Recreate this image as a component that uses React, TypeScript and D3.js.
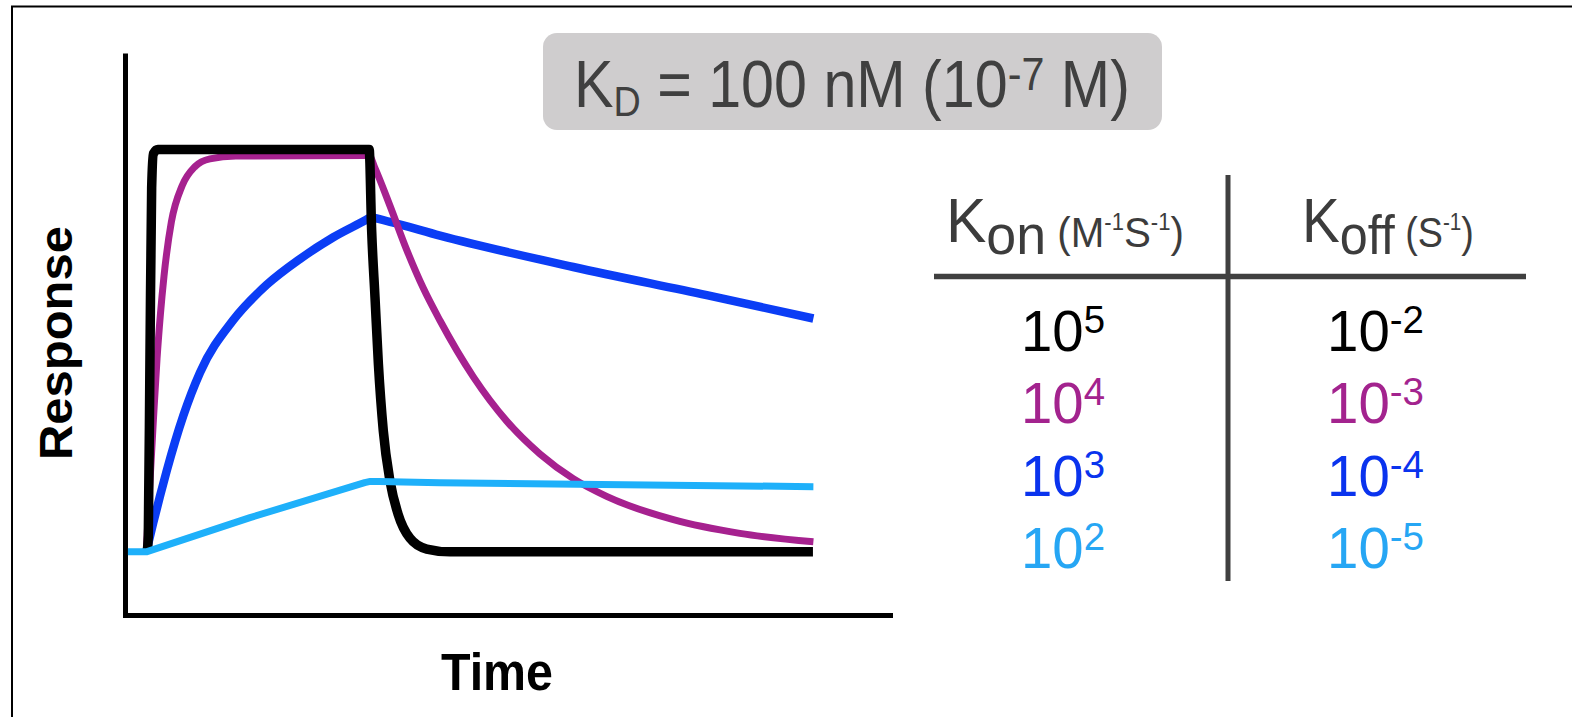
import React, { useEffect, useRef } from 'react';
import * as d3 from 'd3';

const W = 1572;
const H = 717;
const FONT = '"Liberation Sans", Arial, Helvetica, sans-serif';

// sensorgram points: [time, response], 100 = plateau
const fastCurve = [
  [0.4, 0], [0.9, 4], [1.65, 49], [2.4, 90.5], [3.2, 99], [5.2, 100], [99.5, 100],
  [100.6, 80], [102.1, 63.3], [103.6, 46.8], [105.8, 30.1], [108.8, 17.6], [112.4, 9.4],
  [117.7, 3.4], [125.2, 0.7], [135.6, 0], [297.6, 0],
];
const midCurve = [
  [0, 0], [1.5, 16], [3.2, 33], [4.8, 48], [6.3, 59], [7.9, 68.5], [11.2, 82], [16, 91],
  [21.8, 95.8], [28.4, 97.7], [40, 98.4], [99.5, 98.5],
  [102, 95.5], [108.8, 86], [116.3, 75], [123.7, 65.5], [131.1, 57.5], [146, 43.5],
  [160.9, 32.5], [175.8, 24.3], [190.6, 18.2], [205.5, 13.8], [235.3, 8], [265, 4.6], [297.8, 2.5],
];
const slowOnCurve = [
  [0, 0], [3.1, 7.2], [6.1, 13.8], [9.1, 20.1], [16.5, 33.8], [24, 44.6], [38.8, 57.6],
  [53.8, 66.4], [68.6, 72.8], [83.5, 78.2], [98.4, 82.6], [100, 83.1],
  [108.8, 82], [131.1, 78.6], [190.6, 70.8], [250.2, 63.8], [297.8, 58],
];
const slowCurve = [
  [-8.2, 0], [0, 0], [46.3, 8.5], [97.5, 17.2], [100, 17.5], [104, 17.5], [131, 17.2], [297.8, 16.2],
];

const konExp = ['5', '4', '3', '2'];
const koffExp = ['-2', '-3', '-4', '-5'];
const lineColors = ['#000000', '#a6218f', '#0b3df5', '#1eb0fa'];
const textColors = ['#000000', '#a3238e', '#0a33ee', '#26a6f4'];

const addText = (parent, parts, baseline, color, weight = 'normal') => {
  const g = parent.append('g');
  const t = g.append('text')
    .attr('x', 0)
    .attr('y', baseline)
    .attr('fill', color)
    .style('font-family', FONT)
    .style('font-weight', weight)
    .style('white-space', 'pre');
  let cur = 0;
  parts.forEach(p => {
    const off = p.shift || 0;
    t.append('tspan')
      .attr('dy', off - cur)
      .style('font-size', p.size + 'px')
      .text(p.text);
    cur = off;
  });
  return g;
};

// squeeze/stretch a text group so it covers x0..x0+w
const fitText = (g, x0, w) => {
  const bb = g.select('text').node().getBBox();
  const s = w / bb.width;
  g.attr('transform', `translate(${x0 - bb.x * s},0) scale(${s},1)`);
};

const App = () => {
  const svgRef = useRef(null);

  useEffect(() => {
    const svg = d3.select(svgRef.current);
    svg.selectAll('*').remove();

    // frame (only top and left edges fall inside the picture)
    svg.append('path')
      .attr('d', `M12,${H} V6.5 H${W}`)
      .attr('fill', 'none')
      .attr('stroke', '#000')
      .attr('stroke-width', 2);

    const x = d3.scaleLinear().domain([-9.5, 332]).range([125, 890]);
    const y = d3.scaleLinear().domain([-15.7, 124]).range([615, 53]);

    const smooth = d3.line()
      .x(d => x(d[0]))
      .y(d => y(d[1]))
      .curve(d3.curveMonotoneX);
    // the weakest binder is drawn as straight segments
    const straight = d3.line()
      .x(d => x(d[0]))
      .y(d => y(d[1]));

    // axes without ticks
    const yAxis = svg.append('g')
      .attr('transform', `translate(${x.range()[0]},0)`)
      .call(d3.axisLeft(y).tickValues([]).tickSizeOuter(0));
    yAxis.select('.domain').attr('stroke', '#000').attr('stroke-width', 5);

    const xAxis = svg.append('g')
      .attr('transform', `translate(0,${y.range()[0]})`)
      .call(d3.axisBottom(x).tickValues([]).tickSizeOuter(0));
    xAxis.select('.domain').attr('stroke', '#000').attr('stroke-width', 5)
      .attr('stroke-linecap', 'square');

    const curves = [fastCurve, midCurve, slowOnCurve, slowCurve];
    const widths = [9.5, 7, 8.5, 7];
    [2, 1, 0, 3].forEach(i => {
      svg.append('path')
        .datum(curves[i])
        .attr('d', i === 3 ? straight : smooth)
        .attr('fill', 'none')
        .attr('stroke', lineColors[i])
        .attr('stroke-width', widths[i])
        .attr('stroke-linejoin', 'round');
    });

    // axis titles
    const time = addText(svg, [{ text: 'Time', size: 51 }], 690, '#000', 'bold');
    fitText(time, 441, 112);

    const resp = addText(svg, [{ text: 'Response', size: 46 }], 0, '#000', 'bold');
    const rb = resp.select('text').node().getBBox();
    const rs = 234 / rb.width;
    resp.attr('transform', `translate(72,460) rotate(-90) translate(${-rb.x * rs},0) scale(${rs},1)`);

    // KD box
    svg.append('rect')
      .attr('x', 543).attr('y', 33)
      .attr('width', 619).attr('height', 97)
      .attr('rx', 14)
      .attr('fill', '#cfcdce');
    const title = addText(svg, [
      { text: 'K', size: 66 },
      { text: 'D', size: 42, shift: 9 },
      { text: ' = 100 nM (10', size: 66 },
      { text: '-7', size: 46, shift: -17 },
      { text: ' M)', size: 66 },
    ], 107, '#404040');
    fitText(title, 574, 556);

    // table
    svg.append('line')
      .attr('x1', 1228).attr('x2', 1228)
      .attr('y1', 175).attr('y2', 581)
      .attr('stroke', '#404040').attr('stroke-width', 5);
    svg.append('line')
      .attr('x1', 934).attr('x2', 1526)
      .attr('y1', 276.5).attr('y2', 276.5)
      .attr('stroke', '#404040').attr('stroke-width', 5.5);

    const kon = addText(svg, [
      { text: 'K', size: 63 },
      { text: 'on', size: 56, shift: 12 },
      { text: ' (M', size: 42, shift: 5 },
      { text: '-1', size: 23, shift: -12 },
      { text: 'S', size: 42, shift: 5 },
      { text: '-1', size: 23, shift: -12 },
      { text: ')', size: 42, shift: 5 },
    ], 241.7, '#3c3c3c');
    fitText(kon, 946, 238);

    const koff = addText(svg, [
      { text: 'K', size: 63 },
      { text: 'off', size: 56, shift: 12 },
      { text: ' (S', size: 42, shift: 5 },
      { text: '-1', size: 23, shift: -12 },
      { text: ')', size: 42, shift: 5 },
    ], 241.7, '#3c3c3c');
    fitText(koff, 1302, 172);

    const row = d3.scalePoint().domain(d3.range(konExp.length)).range([351, 568]);
    konExp.forEach((e, i) => {
      const g = addText(svg, [
        { text: '10', size: 58 },
        { text: e, size: 39.5, shift: -18 },
      ], row(i), textColors[i]);
      fitText(g, 1021, 84);
    });
    koffExp.forEach((e, i) => {
      const g = addText(svg, [
        { text: '10', size: 58 },
        { text: e, size: 39.5, shift: -18 },
      ], row(i), textColors[i]);
      fitText(g, 1327, 97);
    });
  }, []);

  return (
    <svg
      ref={svgRef}
      width={W}
      height={H}
      style={{ position: 'absolute', left: 0, top: 0, background: '#fff', display: 'block' }}
    />
  );
};

export default App;
